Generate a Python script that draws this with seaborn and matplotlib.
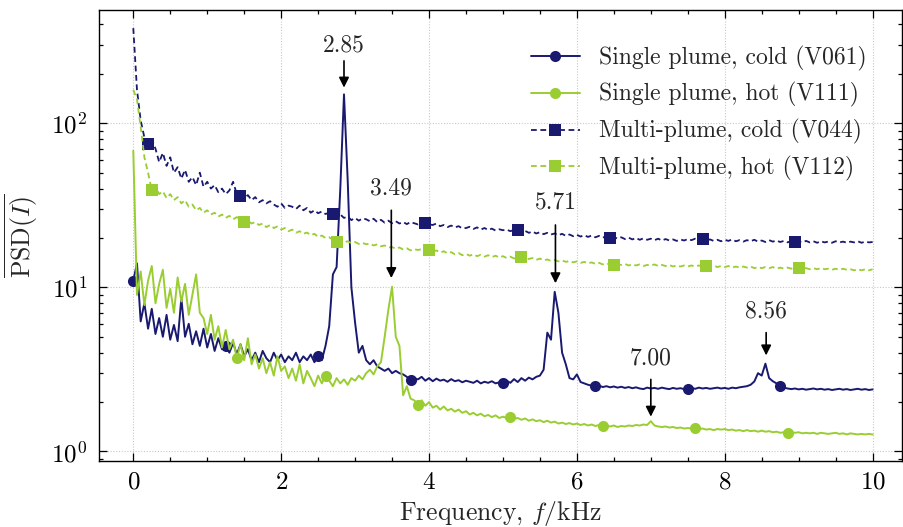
import numpy as np
import matplotlib
matplotlib.use("Agg")
import matplotlib.pyplot as plt
import seaborn as sns
from matplotlib.ticker import MultipleLocator, LogLocator, NullFormatter

# ---------------- data ----------------
freq_step_khz = 0.05
freq = np.round(np.arange(0, 201) * freq_step_khz, 3)

single_cold = [11.0, 14.0, 6.2, 8.0, 5.6, 7.4, 5.2, 6.5, 5.0, 6.8,
               4.8, 5.9, 4.7, 8.6, 5.0, 6.0, 4.5, 5.4, 4.4, 5.6,
               4.3, 5.2, 4.1, 4.9, 4.2, 4.4, 4.0, 4.6, 3.9, 4.5,
               3.8, 4.2, 3.6, 4.0, 3.5, 4.1, 3.7, 3.5, 4.0, 3.6,
               3.9, 3.5, 3.8, 3.6, 4.0, 3.5, 3.8, 3.6, 3.9, 3.5,
               3.8, 3.6, 4.4, 5.8, 12.0, 13.3, 40.0, 150.0, 45.0, 10.0,
               6.1, 4.0, 4.4, 3.6, 3.4, 3.6, 3.3, 3.2, 3.1, 3.2,
               3.0, 3.1, 3.0, 2.95, 2.85, 2.72, 2.8, 2.75, 2.85, 2.7,
               2.8, 2.68, 2.78, 2.7, 2.74, 2.66, 2.76, 2.68, 2.72, 2.64,
               2.7, 2.66, 2.62, 2.7, 2.6, 2.66, 2.62, 2.68, 2.6, 2.64,
               2.63, 2.7, 2.62, 2.76, 2.65, 2.8, 2.7, 2.82, 2.75, 2.85,
               2.9, 3.15, 5.3, 4.8, 9.4, 7.0, 4.0, 3.4, 2.8, 2.75,
               2.95, 2.65, 2.6, 2.55, 2.52, 2.5, 2.52, 2.47, 2.5, 2.46,
               2.49, 2.45, 2.48, 2.44, 2.47, 2.43, 2.46, 2.42, 2.4, 2.45,
               2.42, 2.44, 2.41, 2.45, 2.42, 2.4, 2.44, 2.41, 2.43, 2.4,
               2.42, 2.44, 2.41, 2.45, 2.42, 2.44, 2.41, 2.43, 2.45, 2.42,
               2.44, 2.41, 2.45, 2.43, 2.46, 2.48, 2.5, 2.55, 2.67, 3.0,
               2.9, 3.43, 2.8, 2.68, 2.6, 2.5, 2.45, 2.42, 2.4, 2.42,
               2.39, 2.41, 2.38, 2.4, 2.42, 2.39, 2.41, 2.38, 2.4, 2.37,
               2.39, 2.41, 2.38, 2.4, 2.37, 2.39, 2.41, 2.38, 2.4, 2.37,
               2.39]

single_hot = [68.0, 9.0, 12.5, 7.8, 11.0, 13.5, 8.0, 10.5, 12.8, 7.5,
              9.8, 7.0, 11.5, 8.2, 10.5, 6.8, 9.0, 12.0, 7.0, 6.5,
              5.2, 6.8, 4.8, 5.8, 4.3, 5.5, 4.2, 4.8, 3.7, 4.5,
              3.6, 4.9, 3.4, 3.9, 3.2, 3.7, 3.0, 3.5, 2.9, 3.8,
              3.1, 3.3, 2.8, 3.2, 2.7, 3.4, 2.6, 3.1, 2.8, 2.5,
              2.9, 2.6, 2.9, 2.7, 2.5, 2.8, 2.6, 2.75, 2.55, 2.8,
              2.7, 2.9, 2.75, 3.0, 3.15, 2.95, 3.3, 3.5, 5.0, 7.3,
              10.1, 5.0, 4.4, 2.2, 2.5, 2.1, 2.05, 1.93, 2.05, 1.9,
              2.0, 1.85, 1.9, 1.8, 1.88, 1.78, 1.82, 1.75, 1.8, 1.72,
              1.76, 1.68, 1.72, 1.66, 1.7, 1.64, 1.67, 1.62, 1.66, 1.6,
              1.63, 1.6, 1.62, 1.58, 1.6, 1.56, 1.59, 1.54, 1.57, 1.53,
              1.55, 1.51, 1.54, 1.5, 1.52, 1.48, 1.5, 1.47, 1.49, 1.46,
              1.48, 1.45, 1.47, 1.44, 1.46, 1.43, 1.45, 1.43, 1.44, 1.42,
              1.44, 1.41, 1.43, 1.42, 1.44, 1.43, 1.45, 1.44, 1.46, 1.45,
              1.53, 1.44, 1.42, 1.41, 1.42, 1.4, 1.41, 1.39, 1.4, 1.38,
              1.39, 1.38, 1.39, 1.37, 1.38, 1.36, 1.37, 1.35, 1.37, 1.36,
              1.37, 1.35, 1.36, 1.34, 1.35, 1.33, 1.35, 1.33, 1.34, 1.32,
              1.34, 1.32, 1.33, 1.31, 1.32, 1.3, 1.31, 1.3, 1.31, 1.3,
              1.31, 1.29, 1.3, 1.29, 1.3, 1.28, 1.3, 1.29, 1.28, 1.29,
              1.3, 1.28, 1.29, 1.27, 1.29, 1.28, 1.27, 1.28, 1.27, 1.28,
              1.27]

multi_cold = [380.0, 160.0, 104.0, 82.0, 75.0, 80.0, 70.0, 58.0, 66.0, 55.0,
              62.0, 50.0, 54.0, 46.0, 52.0, 44.0, 47.0, 42.0, 50.0, 41.0,
              44.0, 40.0, 42.0, 38.0, 40.0, 37.0, 39.0, 44.0, 37.0, 36.0,
              35.0, 36.5, 34.0, 35.5, 33.0, 34.0, 32.5, 33.5, 32.0, 31.0,
              32.5, 30.5, 31.5, 31.0, 30.0, 31.5, 29.5, 30.5, 28.5, 29.5,
              28.3, 29.0, 28.0, 28.5, 28.0, 27.0, 27.8, 26.5, 27.0, 25.7,
              26.5, 25.5, 26.3, 26.0, 25.3, 26.2, 25.0, 25.8, 24.8, 25.5,
              24.6, 25.3, 24.5, 25.0, 24.3, 25.0, 24.6, 24.2, 24.8, 24.7,
              24.2, 24.0, 24.5, 23.6, 24.0, 23.3, 23.8, 23.2, 23.6, 22.9,
              23.0, 23.4, 22.7, 23.2, 22.5, 23.0, 22.4, 22.8, 22.2, 22.6,
              22.3, 22.5, 22.0, 22.4, 22.3, 21.7, 22.1, 21.5, 21.9, 21.3,
              21.7, 21.1, 21.5, 21.0, 21.3, 20.8, 21.2, 20.6, 21.0, 20.5,
              20.9, 20.4, 20.8, 20.3, 20.7, 20.2, 20.6, 20.1, 20.5, 20.0,
              20.3, 19.8, 20.2, 19.7, 20.1, 19.6, 20.0, 19.5, 19.9, 19.5,
              19.8, 19.4, 19.8, 19.3, 19.7, 19.3, 19.6, 19.2, 19.6, 19.3,
              19.7, 19.4, 19.8, 19.5, 19.7, 19.3, 19.6, 19.2, 19.5, 19.1,
              19.5, 19.2, 19.6, 19.1, 19.4, 19.0, 19.4, 19.1, 19.5, 19.0,
              19.3, 18.9, 19.4, 19.0, 19.3, 18.9, 19.2, 18.8, 19.2, 18.9,
              19.1, 18.8, 19.2, 18.8, 19.1, 18.7, 19.1, 18.8, 19.0, 18.7,
              19.1, 18.8, 19.0, 18.7, 19.0, 18.8, 19.1, 18.7, 19.0, 18.8,
              18.9]

multi_hot = [160.0, 140.0, 95.0, 62.0, 50.0, 39.0, 41.0, 37.0, 38.5, 35.0,
             37.0, 34.0, 35.5, 32.5, 34.0, 31.0, 32.0, 29.5, 30.5, 28.5,
             29.5, 27.8, 28.5, 27.0, 27.8, 26.5, 27.3, 26.0, 26.8, 25.8,
             25.0, 25.5, 24.5, 25.0, 24.0, 24.5, 23.3, 24.0, 23.0, 23.5,
             22.5, 23.0, 22.0, 22.5, 21.5, 22.0, 21.2, 21.6, 20.8, 21.2,
             20.3, 20.7, 20.0, 20.2, 19.5, 19.0, 19.3, 18.8, 19.1, 18.6,
             18.9, 18.4, 18.7, 18.3, 18.5, 18.0, 18.3, 17.8, 18.0, 17.5,
             17.6, 17.2, 17.5, 17.0, 17.3, 16.8, 17.1, 16.9, 17.1, 16.7,
             16.9, 16.5, 16.8, 16.3, 16.6, 16.1, 16.4, 15.9, 16.2, 15.7,
             16.0, 15.6, 15.9, 15.5, 15.8, 15.4, 15.7, 15.3, 15.6, 15.2,
             15.5, 15.1, 15.4, 15.0, 15.3, 15.3, 15.0, 14.9, 15.1, 14.7,
             15.0, 14.6, 14.8, 14.5, 14.7, 14.4, 14.6, 14.3, 14.5, 14.2,
             14.4, 14.1, 14.3, 14.0, 14.2, 13.9, 14.1, 13.8, 14.0, 13.8,
             13.7, 13.9, 13.7, 13.9, 13.6, 13.8, 13.6, 13.8, 13.5, 13.7,
             13.6, 13.8, 13.5, 13.7, 13.5, 13.7, 13.4, 13.6, 13.4, 13.6,
             13.4, 13.6, 13.4, 13.6, 13.4, 13.5, 13.4, 13.6, 13.3, 13.5,
             13.3, 13.5, 13.2, 13.4, 13.2, 13.4, 13.2, 13.4, 13.1, 13.3,
             13.1, 13.3, 13.1, 13.3, 13.0, 13.2, 13.0, 13.2, 13.0, 13.2,
             13.2, 13.0, 13.1, 12.9, 13.1, 12.9, 13.1, 12.9, 13.0, 12.8,
             13.0, 12.8, 13.0, 12.8, 12.9, 12.7, 12.9, 12.7, 12.9, 12.7,
             12.9]

labels = ["Single plume, cold (V061)", "Single plume, hot (V111)",
          "Multi-plume, cold (V044)", "Multi-plume, hot (V112)"]

peak_freqs = [2.85, 3.49, 5.71, 7.00, 8.56]
peak_labels = ["2.85", "3.49", "5.71", "7.00", "8.56"]
# (text y, arrow tail y, arrow head y) in data units
peak_text_y = [300, 40, 33, 3.7, 7.1]
peak_tail_y = [240, 29.5, 24, 2.75, 5.3]
peak_head_y = [165, 11.4, 10.6, 1.63, 3.85]

# ---------------- style ----------------
sns.set_style("ticks")
plt.rcParams.update({
    "font.family": "serif",
    "font.serif": ["cmr10", "DejaVu Serif"],
    "mathtext.fontset": "cm",
    "axes.formatter.use_mathtext": True,
    "axes.unicode_minus": False,
    "font.size": 17,
})

navy = "#191970"
green = "#9acd32"

fig = plt.figure(figsize=(9.04, 5.27), dpi=100)
ax = fig.add_axes([0.109, 0.126, 0.889, 0.855])

dash = (0, (3.2, 2.0))
series = [
    (single_cold, navy, "-", "o", slice(0, 200, 25), 1.4),
    (single_hot, green, "-", "o", [28, 52, 77, 102, 127, 152, 177], 1.4),
    (multi_cold, navy, dash, "s", slice(4, 200, 25), 1.3),
    (multi_hot, green, dash, "s", slice(5, 200, 25), 1.3),
]
for (vals, col, ls, mk, me, lw), lab in zip(series, labels):
    sns.lineplot(x=freq, y=np.asarray(vals), ax=ax, color=col, linestyle=ls,
                 linewidth=lw, marker=mk, markersize=8, markevery=me,
                 markeredgewidth=0, label=lab, sort=False, estimator=None)

ax.set_yscale("log")
ax.set_xlim(-0.47, 10.4)
ax.set_ylim(0.88, 490)

ax.xaxis.set_major_locator(MultipleLocator(2))
ax.xaxis.set_minor_locator(MultipleLocator(0.5))
ax.yaxis.set_major_locator(LogLocator(base=10, numticks=10))
ax.yaxis.set_minor_locator(LogLocator(base=10, subs=np.arange(2, 10), numticks=10))
ax.yaxis.set_minor_formatter(NullFormatter())

ax.tick_params(which="both", direction="in", top=True, right=True,
               labelsize=18, width=0.9, colors="black")
ax.tick_params(which="major", length=6, pad=8)
ax.tick_params(which="minor", length=3)
for s in ax.spines.values():
    s.set_linewidth(1.0)
    s.set_color("black")

ax.grid(True, which="major", linestyle=(0, (1, 1.5)), color="#c8c8c8", linewidth=0.8)
ax.set_axisbelow(True)

ax.set_xlabel(r"Frequency, $f/$kHz", fontsize=18.5, labelpad=4)
ax.set_ylabel(r"$\overline{\mathrm{PSD}(I)}$", fontsize=18.5, labelpad=8)

for fx, lab, ty, t0, t1 in zip(peak_freqs, peak_labels, peak_text_y, peak_tail_y, peak_head_y):
    ax.annotate("", xy=(fx, t1), xytext=(fx, t0),
                arrowprops=dict(arrowstyle="-|>", color="black", lw=1.2,
                                mutation_scale=15, shrinkA=0, shrinkB=0))
    ax.text(fx, ty, lab, ha="center", va="center", fontsize=17)

leg = ax.legend(loc="upper right", frameon=False, fontsize=17,
                handlelength=2.1, handletextpad=0.8, labelspacing=0.5,
                borderaxespad=1.1)

fig.savefig("out.png", dpi=100)
